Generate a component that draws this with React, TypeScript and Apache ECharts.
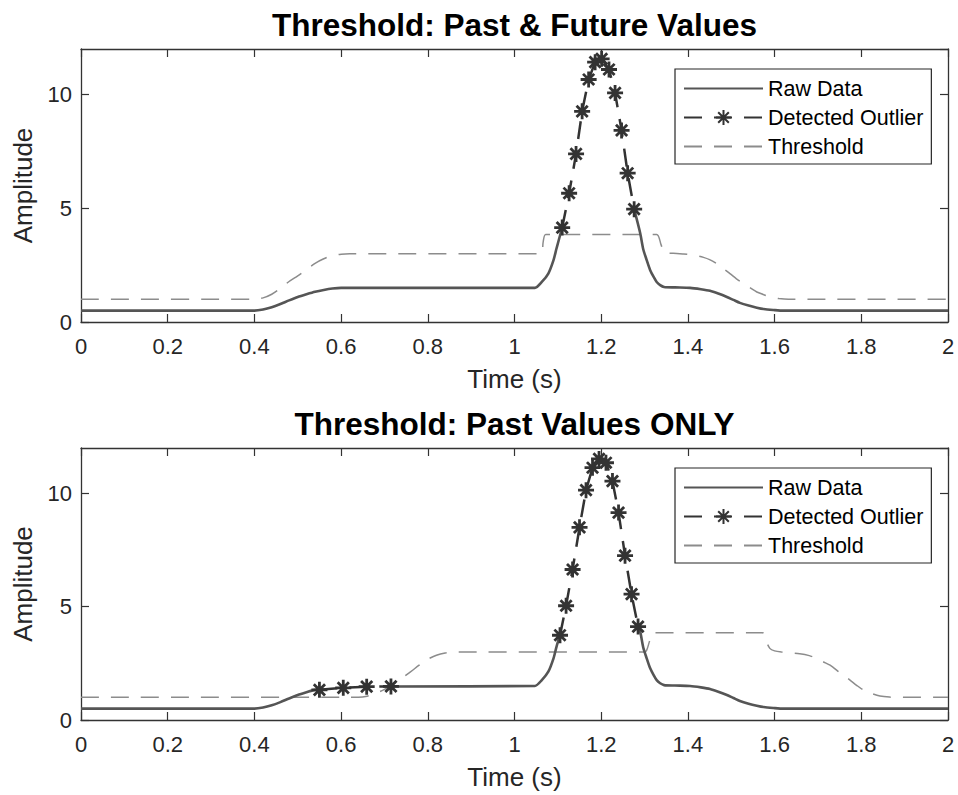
import React, { useEffect, useRef } from "react";
import * as echarts from "echarts";

// ---- data ----
const rawT = [0, 0.4, 0.42, 0.44, 0.46, 0.48, 0.5, 0.52, 0.54, 0.56, 0.58, 0.6, 1.047, 1.063, 1.078, 1.09, 1.097,
  1.29, 1.297, 1.305, 1.313, 1.321, 1.328, 1.336, 1.345, 1.37, 1.405, 1.43, 1.451, 1.47, 1.49, 1.505, 1.52, 1.54, 1.559, 1.575, 1.597, 1.62, 2.0];
const rawV = [0.5, 0.5, 0.55, 0.65, 0.79, 0.95, 1.1, 1.22, 1.33, 1.41, 1.47, 1.5, 1.5, 1.76, 2.13, 2.72, 3.24,
  3.9, 3.2, 2.72, 2.28, 1.98, 1.76, 1.62, 1.54, 1.52, 1.5, 1.44, 1.37, 1.25, 1.1, 0.97, 0.84, 0.72, 0.63, 0.57, 0.53, 0.5, 0.5];

const topOutT = [1.11, 1.126, 1.142, 1.156, 1.171, 1.186, 1.201, 1.218, 1.232, 1.247, 1.261, 1.276];
const topOutV = [4.15, 5.66, 7.39, 9.26, 10.66, 11.42, 11.57, 11.1, 10.07, 8.42, 6.54, 4.96];

const botLowT = [0.55, 0.605, 0.659, 0.715];
const botLowV = [1.33, 1.42, 1.47, 1.48];
const botPeakT = [1.105, 1.119, 1.134, 1.15, 1.165, 1.18, 1.195, 1.211, 1.226, 1.24, 1.255, 1.27, 1.285];
const botPeakV = [3.74, 5.04, 6.64, 8.5, 10.14, 11.13, 11.52, 11.35, 10.54, 9.15, 7.25, 5.55, 4.12];

const thrTopT = [0, 0.4, 0.42, 0.44, 0.46, 0.48, 0.5, 0.52, 0.54, 0.56, 0.58, 0.6, 0.62, 1.062, 1.066, 1.072,
  1.328, 1.338, 1.347, 1.366, 1.39, 1.416, 1.436, 1.45, 1.466, 1.48, 1.497, 1.512, 1.528, 1.544, 1.559, 1.575, 1.589, 1.61, 1.632, 2.0];
const thrTopV = [1.0, 1.0, 1.06, 1.22, 1.48, 1.78, 2.03, 2.3, 2.58, 2.78, 2.92, 2.98, 3.0, 3.0, 3.5, 3.85,
  3.85, 3.4, 3.02, 3.02, 2.99, 2.94, 2.84, 2.74, 2.57, 2.37, 2.13, 1.9, 1.69, 1.5, 1.32, 1.2, 1.1, 1.03, 1.0, 1.0];

const thrBotT = [0, 0.64, 0.66, 0.68, 0.7, 0.72, 0.74, 0.76, 0.78, 0.8, 0.82, 0.84, 0.86, 1.3, 1.305, 1.312, 1.32,
  1.572, 1.58, 1.589, 1.6, 1.616, 1.658, 1.68, 1.697, 1.712, 1.728, 1.75, 1.774, 1.79, 1.805, 1.825, 1.843, 1.865, 1.882, 2.0];
const thrBotV = [1.0, 1.0, 1.05, 1.18, 1.35, 1.58, 1.85, 2.12, 2.42, 2.68, 2.86, 2.96, 3.0, 3.0, 3.08, 3.5, 3.85,
  3.85, 3.5, 3.16, 3.05, 3.0, 2.92, 2.84, 2.72, 2.57, 2.42, 2.1, 1.76, 1.52, 1.32, 1.16, 1.06, 1.01, 1.0, 1.0];

const titles = ["Threshold: Past & Future Values", "Threshold: Past Values ONLY"];
const legendNames = ["Raw Data", "Detected Outlier", "Threshold"];
const xLabel = "Time (s)";
const yLabel = "Amplitude";

// ---- helpers ----
type Group = { t: number[]; v: number[] };
const pairs = (t: number[], v: number[]) => t.map((x, i) => [x, v[i]]);

function rawWithGaps(groups: Group[]) {
  const items: any[] = [];
  rawT.forEach((t, i) => {
    if (!groups.some((g) => t >= g.t[0] && t <= g.t[g.t.length - 1])) items.push([t, rawV[i]]);
  });
  groups.forEach((g) => {
    const n = g.t.length;
    items.push([g.t[0], g.v[0]]);
    items.push([(g.t[0] + g.t[n - 1]) / 2, "-"]);
    items.push([g.t[n - 1], g.v[n - 1]]);
  });
  items.sort((a, b) => a[0] - b[0]);
  return items;
}

function joinGroups(groups: Group[]) {
  const items: any[] = [];
  groups.forEach((g, k) => {
    if (k > 0) items.push([(groups[k - 1].t[groups[k - 1].t.length - 1] + g.t[0]) / 2, "-"]);
    items.push(...pairs(g.t, g.v));
  });
  return items;
}

const FONT = "'Liberation Sans', Arial, Helvetica, sans-serif";
const AX = "#333333";
const STAR = "path://M10,0L10,20M0,10L20,10M3,3L17,17M3,17L17,3";

export default function App() {
  const ref = useRef<HTMLDivElement>(null);
  useEffect(() => {
    if (!ref.current) return;
    const chart = echarts.init(ref.current, null, { renderer: "svg" });

    const grids = [
      { top: 49, height: 273 },
      { top: 448, height: 272 },
    ];
    const topGroups: Group[][] = [[{ t: topOutT, v: topOutV }], [{ t: botLowT, v: botLowV }, { t: botPeakT, v: botPeakV }]];
    const thr = [pairs(thrTopT, thrTopV), pairs(thrBotT, thrBotV)];

    const axisLine = { show: true, onZero: false, lineStyle: { color: AX, width: 1.3 } };
    const axisTick = { show: true, inside: true, length: 8, lineStyle: { color: AX, width: 1.2 } };

    const xAxis: any[] = [];
    const yAxis: any[] = [];
    const series: any[] = [];
    const legend: any[] = [];
    const title: any[] = [];
    const hidden = { color: "rgba(0,0,0,0)", borderWidth: 0, opacity: 0 };

    grids.forEach((g, i) => {
      xAxis.push({
        gridIndex: i, type: "value", min: 0, max: 2, interval: 0.2, position: "bottom",
        axisLine, axisTick, splitLine: { show: false },
        axisLabel: { fontSize: 22, color: "#262626", margin: 13, fontFamily: FONT },
        name: xLabel, nameLocation: "middle", nameGap: 44,
        nameTextStyle: { fontSize: 26, color: "#262626", fontFamily: FONT },
      });
      xAxis.push({
        gridIndex: i, type: "value", min: 0, max: 2, interval: 0.2, position: "top",
        axisLine, axisTick, splitLine: { show: false }, axisLabel: { show: false },
      });
      yAxis.push({
        gridIndex: i, type: "value", min: 0, max: 12, interval: 5, position: "left",
        axisLine, axisTick, splitLine: { show: false },
        axisLabel: { fontSize: 22, color: "#262626", margin: 9, fontFamily: FONT, showMaxLabel: false },
        name: yLabel, nameLocation: "middle", nameGap: 45, nameRotate: 90,
        nameTextStyle: { fontSize: 26, color: "#262626", fontFamily: FONT },
      });
      yAxis.push({
        gridIndex: i, type: "value", min: 0, max: 12, interval: 5, position: "right",
        axisLine, axisTick, splitLine: { show: false }, axisLabel: { show: false },
      });

      series.push({
        name: "Raw Data", type: "line", xAxisIndex: 2 * i, yAxisIndex: 2 * i,
        data: rawWithGaps(topGroups[i]), symbol: "none", smooth: 0.25, connectNulls: false,
        lineStyle: { color: "#555555", width: 2.6 }, itemStyle: { color: "#555555" }, z: 3,
      });
      series.push({
        name: "Threshold", type: "line", xAxisIndex: 2 * i, yAxisIndex: 2 * i,
        data: thr[i], symbol: "none", smooth: 0.25,
        lineStyle: { color: "#8c8c8c", width: 1.5, type: [18, 12] }, itemStyle: { color: "#8c8c8c" }, z: 2,
      });
      series.push({
        name: "Detected Outlier", type: "line", xAxisIndex: 2 * i, yAxisIndex: 2 * i,
        data: joinGroups(topGroups[i]), symbol: STAR, symbolSize: 16, showSymbol: true, connectNulls: false,
        lineStyle: { color: "#333333", width: 2.5, type: [18, 12] },
        itemStyle: { color: "#333333", borderColor: "#333333", borderWidth: 2.8 }, z: 4,
      });

      legend.push({
        orient: "vertical", left: 675, top: g.top + 20, selectedMode: false,
        data: [
          { name: legendNames[0], itemStyle: hidden },
          { name: legendNames[1] },
          { name: legendNames[2], itemStyle: hidden },
        ],
        itemWidth: 79, itemHeight: 19, itemGap: 0, padding: [5, 8, 3, 8],
        borderColor: "#262626", borderWidth: 1.2, backgroundColor: "#ffffff",
        textStyle: { fontSize: 21.5, color: "#000000", fontFamily: FONT, lineHeight: 29 },
      });
      title.push({
        text: titles[i], left: 514.5, top: g.top - 40, textAlign: "center", padding: 0,
        textStyle: { fontSize: 31.5, fontWeight: "bold", color: "#000000", fontFamily: FONT },
      });
    });

    chart.setOption({
      animation: false,
      backgroundColor: "#ffffff",
      title,
      legend,
      grid: grids.map((g) => ({ left: 81, right: 10, top: g.top, height: g.height, containLabel: false })),
      xAxis,
      yAxis,
      series,
    });
    return () => chart.dispose();
  }, []);

  return <div ref={ref} style={{ position: "absolute", left: 0, top: 0, width: 958, height: 795 }} />;
}
